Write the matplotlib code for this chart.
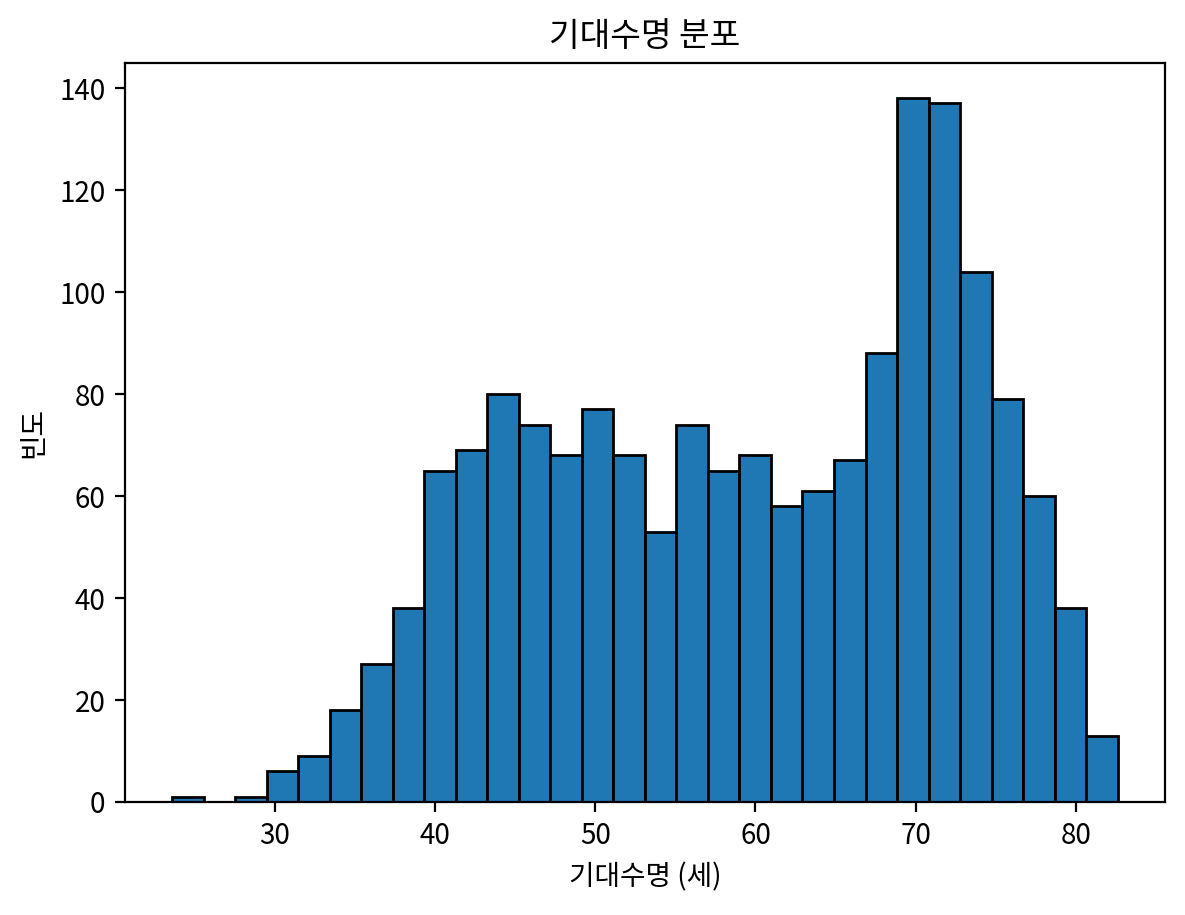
import matplotlib
matplotlib.use("Agg")
import matplotlib.pyplot as plt
import numpy as np

plt.rcParams["font.family"] = ["Noto Sans CJK KR", "DejaVu Sans"]
plt.rcParams["axes.unicode_minus"] = False

# life expectancy histogram, 30 bins between min and max
life_min = 23.599
life_max = 82.603
n_bins = 30
counts = [1, 0, 1, 6, 9, 18, 27, 38, 65, 69,
          80, 74, 68, 77, 68, 53, 74, 65, 68, 58,
          61, 67, 88, 138, 137, 104, 79, 60, 38, 13]

edges = np.linspace(life_min, life_max, n_bins + 1)
centers = (edges[:-1] + edges[1:]) / 2

fig = plt.figure(figsize=(5.925, 4.575), dpi=200)
ax = fig.add_axes([0.1055, 0.1235, 0.8775, 0.8075])
ax.hist(centers, bins=edges, weights=counts, color="#1f77b4", edgecolor="black")
ax.set_title("기대수명 분포")
ax.set_xlabel("기대수명 (세)")
ax.set_ylabel("빈도")

fig.savefig("out.png", dpi=200)
